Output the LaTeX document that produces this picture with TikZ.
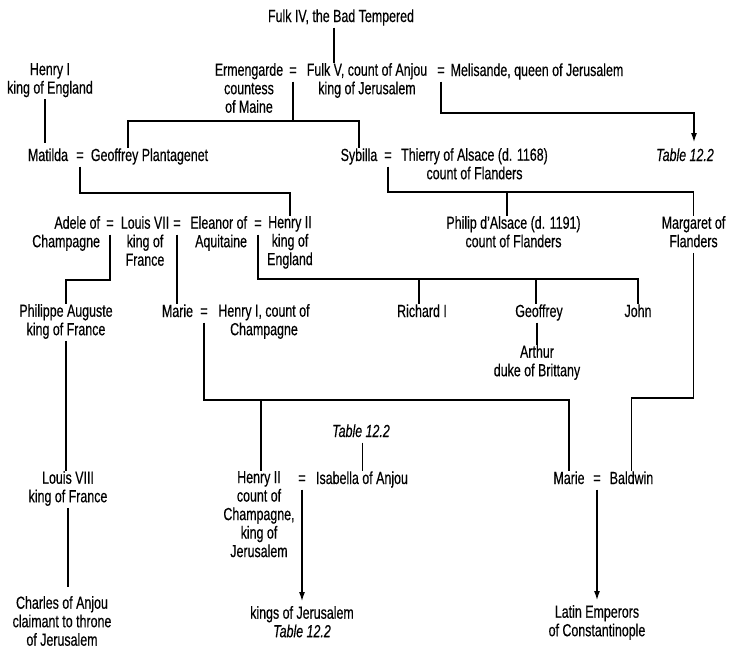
\documentclass[tikz,border=0pt]{standalone}
\usepackage{fontspec}
\setmainfont{Liberation Sans}[FakeStretch=0.71,FakeBold=0.35]
\usetikzlibrary{arrows.meta}
\begin{document}
\begin{tikzpicture}[x=1pt,y=-1pt,
  every node/.style={font=\fontsize{17.5}{18.5}\selectfont},
  pn/.style={anchor=north,inner sep=0pt,outer sep=0pt,yshift=12.95pt,align=center,
    execute at begin node=\strut,execute at end node=\strut},
  pr/.style={pn,anchor=north east,align=right},
  ln/.style={line width=1.2pt},
  arr/.style={ln,-{Latex[length=9pt,width=6pt]}}]
\useasboundingbox (0,0) rectangle (729,659);
\fill[white] (0,0) rectangle (729,659);
% bar levels
\coordinate (bar1) at (0,121);
\coordinate (bar2) at (0,113);
\coordinate (bar3) at (0,193);
\coordinate (bar4) at (0,192);
\coordinate (bar5) at (0,280);
\coordinate (bar7) at (0,279);
\coordinate (bar8) at (0,400);
\coordinate (bar9) at (0,398);
% row 0
\node[pn] (fulk4) at (341,22) {Fulk IV, the Bad Tempered};
% row 1
\node[pn] (henry1) at (50,76) {Henry I\\king of England};
\node[pn] (erm) at (249,76) {Ermengarde\\countess\\of Maine};
\node[pn] (e1) at (293,76) {=};
\node[pn] (fulk5) at (367,76) {Fulk V, count of Anjou\\king of Jerusalem};
\node[pn] (e2) at (441,76) {=};
\node[pn] (meli) at (537,76) {Melisande, queen of Jerusalem};
% row 2
\node[pn] (matilda) at (48,161) {Matilda};
\node[pn] (e3) at (80,161) {=};
\node[pn] (geoffrey) at (149.5,161) {Geoffrey Plantagenet};
\node[pn] (sybilla) at (359,161) {Sybilla};
\node[pn] (e4) at (388,161) {=};
\node[pn] (thierry) at (474.5,161) {Thierry of Alsace (d. 1168)\\count of Flanders};
\node[pn] (tabA) at (685,161) {\itshape Table 12.2};
% row 3
\node[pr] (adele) at (100,229) {Adele of\\Champagne};
\node[pn] (e5) at (110,229) {=};
\node[pn] (louis7) at (145,229) {Louis VII\\king of\\France};
\node[pn] (e6) at (177,229) {=};
\node[pr] (eleanor) at (247,229) {Eleanor of\\Aquitaine};
\node[pn] (e7) at (258,229) {=};
\node[pn] (henry2) at (290,229) {Henry II\\king of\\England};
\node[pn] (philip) at (513.5,229) {Philip d'Alsace (d. 1191)\\count of Flanders};
\node[pn] (margaret) at (693.5,229) {Margaret of\\Flanders};
% row 4
\node[pn] (philippe) at (66,317) {Philippe Auguste\\king of France};
\node[pn] (marie) at (177.5,317) {Marie};
\node[pn] (e8) at (204,317) {=};
\node[pn] (henryc) at (264,317) {Henry I, count of\\Champagne};
\node[pn] (richard) at (422,317) {Richard I};
\node[pn] (geoffrey2) at (539,317) {Geoffrey};
\node[pn] (john) at (638,317) {John};
\node[pn] (arthur) at (537,358) {Arthur\\duke of Brittany};
% row 5
\node[pn] (tabB) at (361,437) {\itshape Table 12.2};
% row 6
\node[pn] (louis8) at (68,484) {Louis VIII\\king of France};
\node[pn] (henryb) at (259,484) {Henry II\\count of\\Champagne,\\king of\\Jerusalem};
\node[pn] (e9) at (302,484) {=};
\node[pn] (isabella) at (362,484) {Isabella of Anjou};
\node[pn] (marie2) at (569,484) {Marie};
\node[pn] (e10) at (597,484) {=};
\node[pn] (baldwin) at (631.5,484) {Baldwin};
% row 7
\node[pn] (charles) at (62,609) {Charles of Anjou\\claimant to throne\\of Jerusalem};
\node[pn] (kings) at (302,619) {kings of Jerusalem\\\itshape Table 12.2};
\node[pn] (latin) at (597,618) {Latin Emperors\\of Constantinople};
% connectors
\draw[ln] ([xshift=-7pt]fulk4.south) -- ([xshift=-7pt]fulk4.south |- fulk5.north);
\draw[ln] (e1.south) -- (e1.south |- bar1);
\draw[ln] ([xshift=-21.5pt]geoffrey.north) |- (bar1 -| sybilla.north) -- (sybilla.north);
\draw[ln] ([xshift=-5pt]henry1.south) -- ([xshift=-5pt,yshift=5pt]henry1.south |- matilda.north);
\draw[arr] (e2.south) -- (e2.south |- bar2) -| ([xshift=9pt,yshift=6pt]tabA.north);
\draw[ln] (e3.south) -- (e3.south |- bar3) -| (henry2.north);
\draw[ln] (e4.south) -- (e4.south |- bar4) -| (margaret.north);
\draw[ln] ([xshift=-6.5pt]philip.north |- bar4) -- ([xshift=-6.5pt]philip.north);
\draw[ln] (e5.south) -- (e5.south |- bar5) -| (philippe.north);
\draw[ln] (e6.south) -- (e6.south |- marie.north);
\draw[ln] (e7.south) |- (john.north |- bar7) -- (john.north);
\draw[ln] ([xshift=-3pt]richard.north |- bar7) -- ([xshift=-3pt]richard.north);
\draw[ln] ([xshift=-3pt]geoffrey2.north |- bar7) -- ([xshift=-3pt]geoffrey2.north);
\draw[ln] (geoffrey2.south -| arthur.north) -- (arthur.north);
\draw[ln] (e8.south) -- (e8.south |- bar8) -| (marie2.north);
\draw[ln] ([xshift=2pt]henryb.north |- bar8) -- ([xshift=2pt]henryb.north);
\draw[ln] (margaret.south) -- (margaret.south |- bar9) -| (baldwin.north);
\draw[ln] (philippe.south) -- (philippe.south |- louis8.north);
\draw[ln,shorten >=9pt] (louis8.south) -- (louis8.south |- charles.north);
\draw[ln] ([xshift=1.5pt]tabB.south) -- ([xshift=1.5pt]tabB.south |- isabella.north);
\draw[arr,shorten >=5pt] (e9.south) -- (e9.south |- kings.north);
\draw[arr,shorten >=5pt] (e10.south) -- (e10.south |- latin.north);
\end{tikzpicture}
\end{document}
